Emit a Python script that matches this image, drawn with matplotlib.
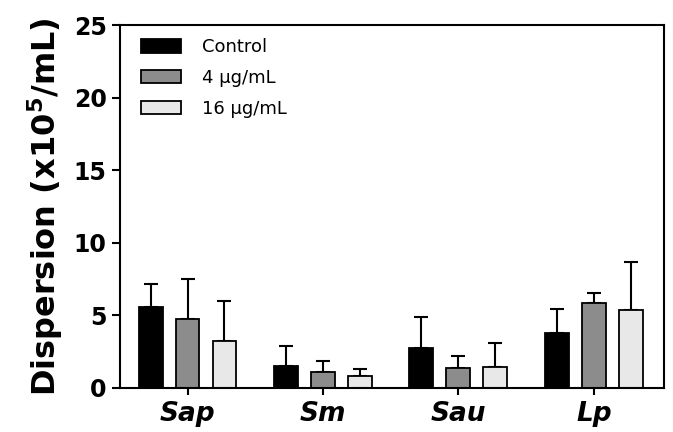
import numpy as np
import matplotlib
matplotlib.use("Agg")
import matplotlib.pyplot as plt

# Data
strains = ["Sap", "Sm", "Sau", "Lp"]
groups = ["Control", "4 µg/mL", "16 µg/mL"]
control = [5.57, 1.46, 2.70, 3.78]
control_err = [1.55, 1.38, 2.16, 1.63]
low = [4.70, 1.05, 1.37, 5.83]
low_err = [2.76, 0.78, 0.83, 0.67]
high = [3.23, 0.79, 1.39, 5.34]
high_err = [2.71, 0.46, 1.66, 3.32]
yticks = [0, 5, 10, 15, 20, 25]

colors = ["#000000", "#8c8c8c", "#e8e8e8"]

plt.rcParams["font.family"] = ["DejaVu Sans"]

fig = plt.figure(figsize=(6.73, 4.32), dpi=100)
ax = fig.add_axes([0.178, 0.103, 0.809, 0.839])

x = np.arange(len(strains))
width = 0.177
offset = 0.273

series = [(control, control_err), (low, low_err), (high, high_err)]
for i, (vals, errs) in enumerate(series):
    pos = x + (i - 1) * offset
    ax.bar(pos, vals, width, color=colors[i], edgecolor="black", linewidth=1.3,
           label=groups[i], zorder=2)
    ax.errorbar(pos, vals, yerr=[np.zeros(len(errs)), errs], fmt="none",
                ecolor="black", elinewidth=1.5, capsize=5, capthick=1.5, zorder=1)

ax.set_xlim(-0.5, 3.52)
ax.set_ylim(0, 25)
ax.set_yticks(yticks)
ax.set_xticks(x)
ax.set_xticklabels(strains, fontsize=19, fontweight="bold", fontstyle="italic")
ax.tick_params(axis="y", labelsize=17, width=1.5, length=6, direction="out")
ax.tick_params(axis="x", width=1.5, length=5, direction="out", pad=5)
for lab in ax.get_yticklabels():
    lab.set_fontweight("bold")
for sp in ax.spines.values():
    sp.set_linewidth(1.5)

ax.set_ylabel("Dispersion (x10$^\\mathbf{5}$/mL)", fontsize=23, fontweight="bold", labelpad=6)

leg = ax.legend(loc="upper left", frameon=False, fontsize=13, handlelength=2.2,
                handleheight=0.75, labelspacing=0.7, handletextpad=1.15,
                bbox_to_anchor=(0.01, 1.008))

plt.savefig("out.png", dpi=100)
